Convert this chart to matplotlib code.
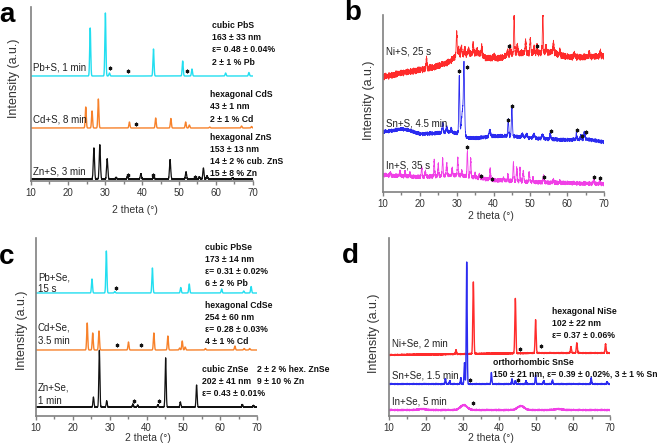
import numpy as np
import matplotlib
matplotlib.use("Agg")
import matplotlib.pyplot as plt
from matplotlib import font_manager as fm

W, H = 661, 446
fig = plt.figure(figsize=(W / 100, H / 100), dpi=100)

X = np.linspace(10, 70, 3001)
xticks_major = [10, 20, 30, 40, 50, 60, 70]

# ---------------- data (2theta in degrees, intensity in a.u.) ----------------
# panel a
a_pb_base_x, a_pb_base_y = [10, 70], [105, 105]
a_pb_pos = [26.0, 30.1, 31.2, 43.1, 51.0, 53.5, 62.6, 68.9]
a_pb_h = [48, 63, 3, 27, 15, 7, 3, 3.5]
a_pb_star_x, a_pb_star_y = [31.3, 36.3, 52.1], [113, 110, 110]

a_cd_base_x, a_cd_base_y = [10, 70], [53, 53]
a_cd_pos = [24.8, 26.5, 28.2, 36.6, 43.7, 47.8, 51.8, 52.8, 58.3, 66.9, 69.6]
a_cd_h = [21, 17, 29, 6, 10, 9.5, 6, 3, 1, 2, 1.5]
a_cd_star_x, a_cd_star_y = [38.4], [57]

a_zn_base_x, a_zn_base_y = [10, 70], [2, 2]
a_zn_pos = [27.0, 28.6, 30.6, 33.0, 36.1, 39.7, 43.2, 47.6, 51.9, 55.5, 56.6, 57.6, 64.5]
a_zn_h = [31, 34, 20, 1.5, 2.5, 5, 2.5, 19, 7, 2, 11, 3, 1]
a_zn_star_x, a_zn_star_y = [36.1, 43.1, 54.3], [6, 6, 4.5]

# panel b
b_ni_base_x = [10, 15, 20, 25, 28, 30, 36, 38, 42, 44, 47, 52, 56, 58, 60, 65, 70]
b_ni_base_y = [115, 119, 122, 126, 130, 137, 139, 134, 134, 137, 139, 139, 140, 137, 135, 135, 136]
b_ni_pos = [21.8, 30.0, 30.5, 31.3, 32.2, 33.2, 34.5, 35.5, 36.8, 40.2, 43.8, 44.6, 45.6,
            46.5, 48.7, 50.0, 51.0, 51.8, 53.4, 54.3, 56.3, 58.0, 62.0, 66.0, 69.0]
b_ni_h = [10, 23, 6, 8, 6, 5, 10, 5, 8, 3, 5, 7, 38, 8, 12, 14, 6, 8, 38, 6, 10, 5, 4, 4, 5]
b_ni_star_x, b_ni_star_y = [44.3, 51.7], [146, 146]

b_sn_base_x = [10, 15, 17, 20, 25, 28, 30, 33, 36, 40, 45, 50, 55, 60, 65, 70]
b_sn_base_y = [60, 63, 62, 58, 59, 60, 59, 54, 54, 56, 56, 54, 53, 52, 53, 50]
b_sn_pos = [26.2, 27.3, 28.5, 30.7, 31.7, 32.0, 39.0, 44.0, 45.0, 47.8, 49.0, 51.0, 53.3,
            55.4, 62.5, 63.7, 64.7]
b_sn_h = [9, 5, 4, 58, 28, 55, 6, 17, 29, 3, 3, 4, 4, 5, 7, 4, 7]
b_sn_w = [0.15, 0.15, 0.15, 0.13, 0.35, 0.13, 0.2, 0.13, 0.13, 0.2, 0.2, 0.2, 0.2,
          0.13, 0.1, 0.13, 0.13]
b_sn_star_x = [30.75, 32.7, 43.9, 45.05, 55.5, 62.6, 63.9, 65.2]
b_sn_star_y = [121, 125, 72, 86, 61, 62, 56, 60]

b_in_base_x = [10, 20, 30, 40, 50, 60, 70]
b_in_base_y = [17, 15, 17, 12, 10, 9, 8]
b_in_pos = [12.0, 14.6, 16.0, 17.3, 20.5, 21.5, 23.9, 25.0, 26.2, 27.3, 28.8, 30.3, 31.4,
            32.9, 33.8, 35.0, 36.2, 39.1, 42.7, 43.9, 45.4, 46.3, 47.2, 48.1, 49.7, 50.7,
            53.6, 56.3, 58.0, 67.2, 68.9]
b_in_h = [3, 5, 5, 4, 10, 5, 16, 12, 17, 12, 7, 18, 5, 25, 18, 4, 4, 10, 3, 6, 19, 13,
          14, 11, 9, 4, 6, 3, 2, 4, 3]
b_in_star_x = [32.9, 36.5, 39.5, 53.6, 67.2, 68.9]
b_in_star_y = [45, 16, 13, 15, 15, 14]

# panel c
c_pb_base_x, c_pb_base_y = [10, 70], [123, 123]
c_pb_pos = [25.2, 29.1, 31.4, 41.6, 49.3, 51.6, 60.4, 66.4, 68.4]
c_pb_h = [14, 42, 1.5, 25, 5.5, 9, 4, 2, 6.5]
c_pb_star_x, c_pb_star_y = [31.7], [128]

c_cd_base_x, c_cd_base_y = [10, 70], [66, 66]
c_cd_pos = [23.9, 25.4, 27.1, 35.1, 42.0, 45.8, 49.0, 49.7, 50.5, 56.0, 64.0, 66.5, 68.0]
c_cd_h = [27, 17, 19, 8, 17, 14, 2, 9, 3, 1.5, 4, 1.5, 1.5]
c_cd_star_x, c_cd_star_y = [32.0, 38.6], [71, 71]

c_zn_base_x, c_zn_base_y = [10, 70], [9, 9]
c_zn_pos = [25.6, 27.2, 29.2, 36.3, 37.6, 43.1, 45.2, 49.2, 53.6, 66.0, 69.0]
c_zn_h = [10, 57, 6, 3, 2, 2, 49, 5, 22, 2.5, 1.5]
c_zn_star_x, c_zn_star_y = [36.5, 43.3], [15, 15]

# panel d
d_ni_base_x, d_ni_base_y = [10, 30, 50, 70], [61, 62, 63, 63]
d_ni_pos = [28.2, 32.9, 44.3, 49.8, 59.4, 61.0, 68.8]
d_ni_h = [4, 72, 55, 33, 6, 10, 9]
d_ni_star_x, d_ni_star_y = [45.5, 51.4], [67.5, 70]

d_sn_base_x, d_sn_base_y = [10, 70], [32, 32]
d_sn_pos = [25.3, 26.5, 29.5, 30.5, 31.1, 37.8, 43.4, 44.3, 47.2, 49.8, 52.0, 54.4, 64.9, 69.2]
d_sn_h = [5, 3, 6, 21, 122, 11, 5, 3, 3, 9, 3, 4, 6, 2]
d_sn_star_x, d_sn_star_y = [31.9, 44.9], [36.5, 36]

d_in_base_x, d_in_base_y = [10, 70], [6, 6]
d_in_pos = [19.0, 30.3, 45.8, 56.0]
d_in_h = [1, 5, 4, 1]
d_in_w = [1.0, 0.9, 0.9, 1.0]
d_in_star_x, d_in_star_y = [32.8], [13]

# hand-typed jitter texture used for the noisy scans
JIT_A = [0.3, -0.8, 0.9, -0.2, -1.0, 0.6, 0.1, -0.5, 1.0, -0.7, 0.4, -0.1, 0.8, -0.9, 0.2,
         -0.4, 0.7, -0.6, 0.0, 0.5, -1.0, 0.9, -0.3, 0.6, -0.8, 0.1, 0.4, -0.2, -0.7, 1.0,
         -0.5, 0.3, 0.8, -0.9, 0.2, -0.1, 0.6]
JIT_B = [-0.4, 0.7, 0.1, -0.9, 0.5, -0.2, 0.9, -0.6, 0.3, -1.0, 0.6, 0.0, -0.3, 0.8, -0.7,
         0.2, 1.0, -0.5, -0.1, 0.4, -0.8, 0.5, -0.2]


def trace(bx, by, pos, hts, width=0.14, noise=0.0):
    y = np.interp(X, bx, by).astype(float)
    widths = width if np.iterable(width) else [width] * len(pos)
    for p, h, w in zip(pos, hts, widths):
        y = y + h * np.exp(-0.5 * ((X - p) / w) ** 2)
    if noise:
        tex = 0.6 * np.resize(JIT_A, X.size) + 0.4 * np.resize(JIT_B, X.size)
        y = y + noise * tex
    return y


def has_font(name, weight="normal"):
    try:
        fm.findfont(fm.FontProperties(family=name, weight=weight), fallback_to_default=False)
        return True
    except Exception:
        return False


if has_font("Liberation Sans Narrow", "bold"):
    BOLD_FAMILY, BOLD_SIZE = "Liberation Sans Narrow", 7.5
else:
    BOLD_FAMILY, BOLD_SIZE = "Liberation Sans", 6.2


def px_axes(left, top, right, bottom, ytop):
    ax = fig.add_axes([left / W, 1 - bottom / H, (right - left) / W, (bottom - top) / H])
    ax.set_xlim(10, 70)
    ax.set_ylim(0, ytop)
    for s in ("top", "right"):
        ax.spines[s].set_visible(False)
    for s in ("left", "bottom"):
        ax.spines[s].set_color("#808080")
        ax.spines[s].set_linewidth(1.2)
    ax.set_yticks([])
    ax.set_xticks(xticks_major)
    ax.set_xticks(np.arange(15, 70, 10), minor=True)
    ax.tick_params(axis="x", which="major", direction="out", length=3, width=1,
                   color="#808080", labelsize=7, labelcolor="#333333", pad=2)
    ax.tick_params(axis="x", which="minor", direction="out", length=2.5, width=1,
                   color="#808080")
    for t in ax.get_xticklabels():
        t.set_fontfamily("Liberation Sans")
    ax.patch.set_alpha(0)
    return ax


def ftext(px, py, s, **kw):
    fig.text(px / W, 1 - py / H, s, **kw)


LBL = dict(fontsize=7, family="Liberation Sans", color="#222222", va="center", ha="left")
BLD = dict(fontsize=BOLD_SIZE, family=BOLD_FAMILY, fontweight="bold", color="#111111",
           va="center", ha="left")
LET = dict(fontsize=20, family="Liberation Sans", fontweight="bold", color="black",
           va="center", ha="center")
XL = dict(fontsize=7.5, family="Liberation Sans", color="#333333", va="center", ha="center")
YL = dict(fontsize=9, family="Liberation Sans", color="#333333", va="center", ha="center",
          rotation=90)


def stars(ax, xs, ys):
    ax.plot(xs, ys, ls="none", marker=(6, 2, 0), ms=2.6, mew=0.8, color="#111111", zorder=5)


CYAN, ORANGE, BLACK = "#22def0", "#f7812a", "#111111"
RED, BLUE, MAG = "#ff2b2b", "#2b2bf0", "#f040e6"

# ---------------- panel a ----------------
ax = px_axes(31, 7, 253, 181, 174)
ax.plot(X, trace(a_pb_base_x, a_pb_base_y, a_pb_pos, a_pb_h), color=CYAN, lw=1.0)
ax.plot(X, trace(a_cd_base_x, a_cd_base_y, a_cd_pos, a_cd_h), color=ORANGE, lw=1.0)
ax.plot(X, trace(a_zn_base_x, a_zn_base_y, a_zn_pos, a_zn_h, 0.16, noise=0.5), color=BLACK, lw=0.9)
stars(ax, a_pb_star_x, a_pb_star_y)
stars(ax, a_cd_star_x, a_cd_star_y)
stars(ax, a_zn_star_x, a_zn_star_y)
ftext(33, 67, "Pb+S, 1 min", **LBL)
ftext(33, 119, "Cd+S, 8 min", **LBL)
ftext(33, 171, "Zn+S, 3 min", **LBL)
for i, s in enumerate(["cubic PbS", "163 ± 33 nm", "ε= 0.48 ± 0.04%", "2 ± 1 % Pb"]):
    ftext(212, 25 + 12.5 * i, s, **BLD)
for i, s in enumerate(["hexagonal CdS", "43 ± 1 nm", "2 ± 1 % Cd"]):
    ftext(210, 94.5 + 12.3 * i, s, **BLD)
for i, s in enumerate(["hexagonal ZnS", "153 ± 13 nm", "14 ± 2 % cub. ZnS", "15 ± 8 % Zn"]):
    ftext(210, 137.5 + 12 * i, s, **BLD)
ftext(7, 15, "a", **LET)
ftext(135, 210, "2 theta (°)", **XL)
ftext(14, 78, "Intensity (a.u.)", **YL)

# ---------------- panel b ----------------
ax = px_axes(383, 15, 604, 192, 177)
ax.plot(X, trace(b_ni_base_x, b_ni_base_y, b_ni_pos, b_ni_h, 0.12, noise=3.5), color=RED, lw=0.6)
ax.plot(X, trace(b_sn_base_x, b_sn_base_y, b_sn_pos, b_sn_h, b_sn_w, noise=2.0), color=BLUE, lw=0.6)
ax.plot(X, trace(b_in_base_x, b_in_base_y, b_in_pos, b_in_h, 0.12, noise=2.2), color=MAG, lw=0.6)
stars(ax, b_ni_star_x, b_ni_star_y)
stars(ax, b_sn_star_x, b_sn_star_y)
stars(ax, b_in_star_x, b_in_star_y)
ftext(386, 52, "Ni+S, 25 s", **LBL)
ftext(386, 124, "Sn+S, 4.5 min", **LBL)
ftext(386, 166, "In+S, 35 s", **LBL)
ftext(353, 13, "b", **LET)
ftext(491, 216, "2 theta (°)", **XL)
ftext(369, 100, "Intensity (a.u.)", **YL)

# ---------------- panel c ----------------
ax = px_axes(36, 238, 257, 416, 178)
ax.plot(X, trace(c_pb_base_x, c_pb_base_y, c_pb_pos, c_pb_h), color=CYAN, lw=1.0)
ax.plot(X, trace(c_cd_base_x, c_cd_base_y, c_cd_pos, c_cd_h), color=ORANGE, lw=1.0)
ax.plot(X, trace(c_zn_base_x, c_zn_base_y, c_zn_pos, c_zn_h, 0.14, noise=0.4), color=BLACK, lw=0.9)
stars(ax, c_pb_star_x, c_pb_star_y)
stars(ax, c_cd_star_x, c_cd_star_y)
stars(ax, c_zn_star_x, c_zn_star_y)
ftext(38, 277, "Pb+Se,", **LBL)
ftext(38, 289, "15 s", **LBL)
ftext(38, 328, "Cd+Se,", **LBL)
ftext(38, 341, "3.5 min", **LBL)
ftext(38, 388, "Zn+Se,", **LBL)
ftext(38, 401, "1 min", **LBL)
for i, s in enumerate(["cubic PbSe", "173 ± 14 nm", "ε= 0.31 ± 0.02%", "6 ± 2 % Pb"]):
    ftext(205, 247 + 12 * i, s, **BLD)
for i, s in enumerate(["hexagonal CdSe", "254 ± 60 nm", "ε= 0.28 ± 0.03%", "4 ± 1 % Cd"]):
    ftext(205, 306 + 12 * i, s, **BLD)
for i, s in enumerate(["cubic ZnSe", "202 ± 41 nm", "ε= 0.43 ± 0.01%"]):
    ftext(202, 370 + 12 * i, s, **BLD)
for i, s in enumerate(["2 ± 2 % hex. ZnSe", "9 ± 10 % Zn"]):
    ftext(257, 370 + 12 * i, s, **BLD)
ftext(7, 257, "c", **LET)
ftext(148, 438, "2 theta (°)", **XL)
ftext(22, 330, "Intensity (a.u.)", **YL)

# ---------------- panel d ----------------
ax = px_axes(389, 238, 610, 416, 178)
ax.plot(X, trace(d_ni_base_x, d_ni_base_y, d_ni_pos, d_ni_h, 0.14, noise=0.6), color=RED, lw=1.0)
ax.plot(X, trace(d_sn_base_x, d_sn_base_y, d_sn_pos, d_sn_h, 0.12, noise=0.6), color=BLUE, lw=1.0)
ax.plot(X, trace(d_in_base_x, d_in_base_y, d_in_pos, d_in_h, d_in_w, noise=0.8), color=MAG, lw=0.9)
stars(ax, d_ni_star_x, d_ni_star_y)
stars(ax, d_sn_star_x, d_sn_star_y)
stars(ax, d_in_star_x, d_in_star_y)
ftext(392, 343, "Ni+Se, 2 min", **LBL)
ftext(392, 375.5, "Sn+Se, 1.5 min", **LBL)
ftext(392, 401, "In+Se, 5 min", **LBL)
for i, s in enumerate(["hexagonal NiSe", "102 ± 22 nm", "ε= 0.37 ± 0.06%"]):
    ftext(552.5, 312 + 12 * i, s, **BLD)
ftext(493, 362.5, "orthorhombic SnSe", **BLD)
ftext(493, 374.5, "150 ± 21 nm, ε= 0.39 ± 0.02%, 3 ± 1 % Sn", **BLD)
ftext(350, 256, "d", **LET)
ftext(491, 438, "2 theta (°)", **XL)
ftext(374, 333, "Intensity (a.u.)", **YL)

fig.savefig("out.png", dpi=100)
